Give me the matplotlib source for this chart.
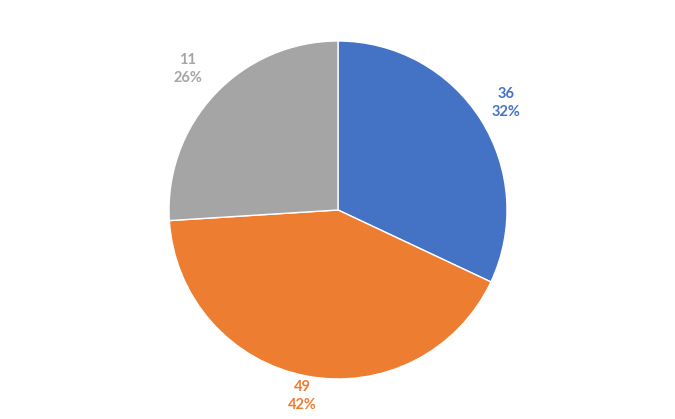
import matplotlib
matplotlib.use("Agg")
import matplotlib.pyplot as plt

values = [36, 49, 11]
percents = [32, 42, 26]
colors = ["#4472C4", "#ED7D31", "#A5A5A5"]
label_dist = [1.18, 1.12, 1.22]

fig = plt.figure(figsize=(6.75, 4.19), dpi=100)
ax = fig.add_axes([0.2504, 0.0955, 0.5007, 0.8067])
wedges, _ = ax.pie(percents, colors=colors, startangle=90, counterclock=False,
                   radius=1, wedgeprops=dict(edgecolor="white", linewidth=1))
import numpy as np
for w, v, p, c, d in zip(wedges, values, percents, colors, label_dist):
    ang = np.deg2rad((w.theta1 + w.theta2) / 2)
    ax.text(d * np.cos(ang), d * np.sin(ang), f"{v}\n{p}%", color=c,
            ha="center", va="center", fontsize=10.5, fontweight="bold",
            family=["Lato", "DejaVu Sans"], linespacing=1.4)
ax.set_xlim(-1, 1)
ax.set_ylim(-1, 1)
ax.set_aspect("equal")
ax.axis("off")
fig.savefig("out.png", dpi=100)
